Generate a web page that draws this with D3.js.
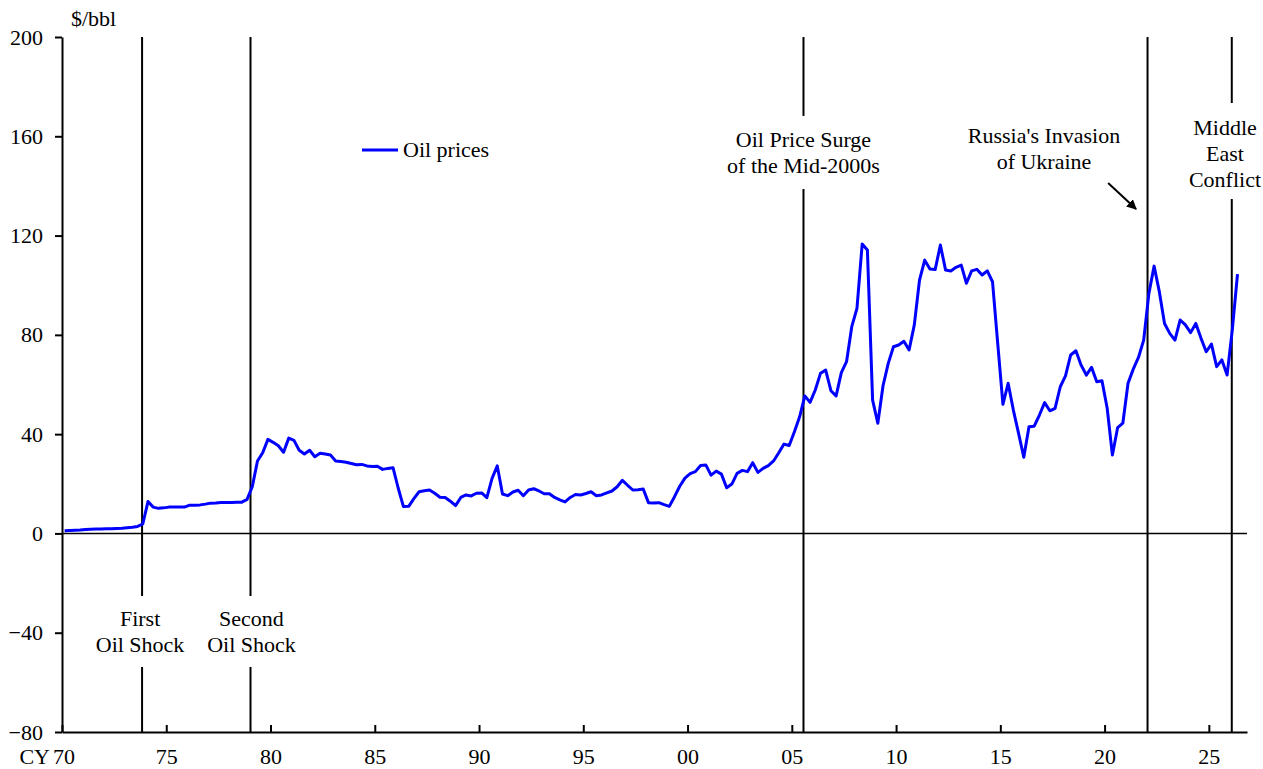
<!DOCTYPE html>
<head>
  <title>Oil prices</title>
  <meta charset="utf-8">
  <style>
    body { margin: 0; background: #ffffff; }
    text { font-family: "Liberation Serif", "Times New Roman", serif; fill: #000000; }
    .axis path, .axis line { stroke: #000000; stroke-width: 2px; }
  </style>
</head>

<body>
  <script src="https://cdn.jsdelivr.net/npm/d3@7"></script>
  <script>
    // quarterly oil prices ($/bbl), one array per decade
    var prices1970s = [1.1, 1.2, 1.3, 1.4, 1.6, 1.7, 1.8, 1.8, 1.9, 1.9, 2.0, 2.1, 2.3, 2.5, 2.8, 3.8,
      12.9, 10.6, 10.1, 10.3, 10.6, 10.6, 10.6, 10.6, 11.4, 11.4, 11.5, 11.8, 12.2, 12.3, 12.5, 12.5,
      12.5, 12.6, 12.6, 13.7, 18.8, 29.2, 32.5, 37.9];
    var prices1980s = [36.7, 35.3, 32.7, 38.4, 37.5, 33.5, 32.0, 33.5, 30.9, 32.3, 32.0, 31.6,
      29.2, 29.0, 28.7, 28.2, 27.7, 27.8, 27.2, 27.0, 27.1, 25.8, 26.2, 26.5, 18.2, 10.8, 10.9, 14.0,
      16.8, 17.2, 17.5, 16.2, 14.6, 14.5, 13.0, 11.2, 14.5, 15.5, 15.1, 16.2];
    var prices1990s = [16.3, 14.4, 22.2, 27.2, 15.9, 15.2, 16.7, 17.4, 15.2, 17.5, 18.0, 17.1,
      16.0, 16.0, 14.5, 13.5, 12.7, 14.5, 15.7, 15.5, 16.1, 16.8, 15.2, 15.5, 16.3, 17.1, 18.8, 21.4,
      19.4, 17.5, 17.6, 17.9, 12.4, 12.3, 12.4, 11.6, 10.9, 14.8, 19.0, 22.3];
    var prices2000s = [24.1, 24.9, 27.4, 27.6, 23.5, 25.1, 23.9, 18.4, 19.9, 24.2, 25.4, 24.9,
      28.5, 24.6, 26.2, 27.3, 29.2, 32.5, 36.0, 35.4, 41.0, 47.0, 55.4, 52.8, 57.8, 64.5, 65.8, 57.5,
      55.4, 64.8, 69.2, 83.3, 90.7, 116.6, 114.2, 53.7, 44.4, 59.5, 68.5, 75.2];
    var prices2010s = [75.9, 77.4, 73.9, 84.0, 102.1, 110.1, 106.5, 106.3, 116.2, 106.1, 105.7, 107.2,
      108.1, 100.8, 105.8, 106.4, 104.1, 105.8, 101.4, 76.6, 52.0, 60.5, 49.7, 40.3, 30.7, 43.0, 43.2, 47.7,
      52.7, 49.4, 50.4, 59.1, 63.5, 71.9, 73.6, 67.8, 63.8, 66.9, 61.1, 61.5];
    var prices2020s = [50.4, 31.6, 42.6, 44.4, 60.5, 66.2, 70.9, 77.9, 96.7, 107.7, 97.4, 84.6,
      80.6, 77.9, 86.0, 84.0, 80.9, 84.6, 78.6, 73.2, 76.3, 67.2, 69.9, 63.8, 82.0, 104.5];

    var firstYear = 1970;
    var yTicks = [200, 160, 120, 80, 40, 0, -40, -80];
    var xTicks = [1970, 1975, 1980, 1985, 1990, 1995, 2000, 2005, 2010, 2015, 2020, 2025];
    var xTickLabels = ["70", "75", "80", "85", "90", "95", "00", "05", "10", "15", "20", "25"];

    var eventNames = [["First", "Oil Shock"], ["Second", "Oil Shock"], ["Oil Price Surge", "of the Mid-2000s"],
      ["Russia's Invasion", "of Ukraine"], ["Middle", "East", "Conflict"]];
    var eventDates = [1973.84, 1979.04, 2005.56, 2022.06, 2026.1];

    function makeChart() {
      var prices = [].concat(prices1970s, prices1980s, prices1990s, prices2000s, prices2010s, prices2020s);
      var data = prices.map(function (v, i) {
        return { t: firstYear + i / 4 + 0.125, v: v };
      });

      var width = 1263, height = 769;
      var m = { left: 62, right: 1247, top: 37, bottom: 732 };

      var svg = d3.select("body").append("svg")
        .attr("width", width)
        .attr("height", height);

      var x = d3.scaleLinear().domain([1970, 2026.83]).range([m.left, m.right]);
      var y = d3.scaleLinear().domain([-80, 200]).range([m.bottom, m.top]);

      //zero line
      svg.append("line")
        .attr("x1", m.left).attr("x2", m.right)
        .attr("y1", y(0)).attr("y2", y(0))
        .attr("stroke", "#000").attr("stroke-width", 1.5);

      //event lines, broken where the labels sit
      var gaps = [[-25.2, -53.8], [-25.2, -53.8], [168.2, 138.8], null, [173.4, 134.7]];
      eventDates.forEach(function (d, i) {
        var segs = gaps[i] ? [[200, gaps[i][0]], [gaps[i][1], -80]] : [[200, -80]];
        segs.forEach(function (s) {
          svg.append("line")
            .attr("x1", x(d)).attr("x2", x(d))
            .attr("y1", y(s[0])).attr("y2", y(s[1]))
            .attr("stroke", "#000").attr("stroke-width", 2);
        });
      });

      //oil price line
      var line = d3.line()
        .x(function (d) { return x(d.t); })
        .y(function (d) { return y(d.v); });

      svg.append("path")
        .datum(data)
        .attr("fill", "none")
        .attr("stroke", "#0000ff")
        .attr("stroke-width", 3)
        .attr("stroke-linejoin", "round")
        .attr("d", line);

      //axes
      var yAxis = d3.axisLeft(y).tickValues(yTicks).tickSize(7).tickSizeOuter(0).tickPadding(12);
      svg.append("g")
        .attr("class", "axis")
        .attr("transform", "translate(" + m.left + ",0)")
        .call(yAxis)
        .selectAll("text")
        .style("font-size", "22px")
        .style("font-family", "Liberation Serif");

      var xAxis = d3.axisBottom(x).tickValues(xTicks).tickSize(-7).tickSizeOuter(0)
        .tickFormat(function (d, i) { return xTickLabels[i]; });
      var gx = svg.append("g")
        .attr("class", "axis")
        .attr("transform", "translate(0," + m.bottom + ")")
        .call(xAxis);
      gx.selectAll("text")
        .attr("y", 32)
        .attr("dy", null)
        .style("font-size", "22px")
        .style("font-family", "Liberation Serif");
      gx.selectAll(".tick").filter(function (d) { return d === 1970; }).select("text").attr("dx", 1.5);

      svg.append("text")
        .attr("x", 50).attr("y", 764)
        .attr("text-anchor", "end")
        .style("font-size", "22px")
        .text("CY");

      svg.append("text")
        .attr("x", 71).attr("y", 26)
        .style("font-size", "22px")
        .text("$/bbl");

      //event labels
      var labelPos = [
        { x: x(eventDates[0]) - 2, y: 626 },
        { x: x(eventDates[1]) + 1, y: 626 },
        { x: x(eventDates[2]), y: 147 },
        { x: 1044, y: 143 },
        { x: 1225, y: 135 }
      ];
      eventNames.forEach(function (lines, i) {
        var t = svg.append("text")
          .attr("text-anchor", "middle")
          .style("font-size", "22px");
        lines.forEach(function (s, j) {
          t.append("tspan")
            .attr("x", labelPos[i].x)
            .attr("y", labelPos[i].y + j * 26)
            .text(s);
        });
      });

      //arrow to the Russia line
      svg.append("defs").append("marker")
        .attr("id", "arrow")
        .attr("viewBox", "0 0 10 10")
        .attr("refX", 9).attr("refY", 5)
        .attr("markerWidth", 5).attr("markerHeight", 5)
        .attr("orient", "auto")
        .append("path")
        .attr("d", "M0,0 L10,5 L0,10 z")
        .attr("fill", "#000");

      svg.append("line")
        .attr("x1", x(2020.17)).attr("y1", y(141.2))
        .attr("x2", x(2021.51)).attr("y2", y(130.7))
        .attr("stroke", "#000").attr("stroke-width", 2)
        .attr("marker-end", "url(#arrow)");

      //legend
      svg.append("line")
        .attr("x1", 362).attr("x2", 398)
        .attr("y1", 150).attr("y2", 150)
        .attr("stroke", "#0000ff").attr("stroke-width", 3);
      svg.append("text")
        .attr("x", 403).attr("y", 157)
        .style("font-size", "22px")
        .text("Oil prices");
    }

    makeChart();
  </script>
</body>
